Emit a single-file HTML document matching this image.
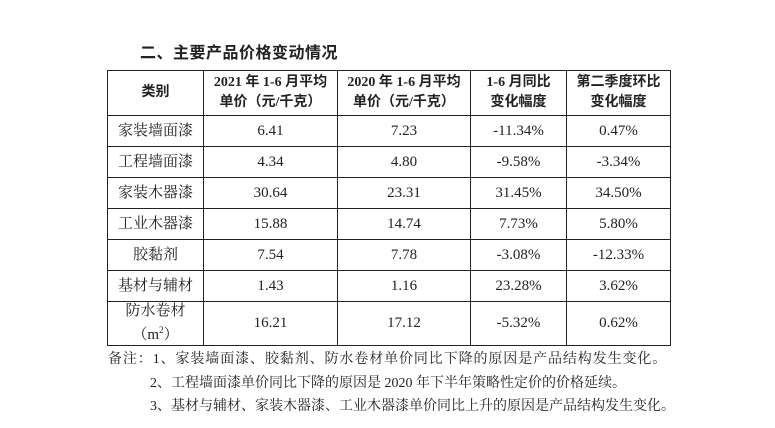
<!DOCTYPE html>
<html><head><meta charset="utf-8"><style>
body{margin:0;width:775px;height:428px;background:#fff;position:relative;overflow:hidden;font-family:"Liberation Serif","Noto Serif CJK SC",serif;color:#222}
.t{position:absolute;left:140px;top:39px;font-size:16px;font-weight:bold;font-family:"Liberation Sans","Noto Sans CJK SC",sans-serif;letter-spacing:0.5px}
table{position:absolute;left:107px;top:70px;border-collapse:collapse;}
td{border:1.3px solid #222;text-align:center;font-size:15px;padding:0;line-height:19px}
th{border:1.3px solid #222;font-size:14px;font-weight:bold;padding:0;line-height:20px;font-family:"Liberation Serif","Noto Sans CJK SC",serif}
.n{position:absolute;font-size:14px;white-space:nowrap}
</style></head><body>
<div class="t">二、主要产品价格变动情况</div>
<table>
<tr style="height:45px"><th style="width:95px">类别</th><th style="width:133px">2021 年 1-6 月平均<br>单价（元/千克）</th><th style="width:132px">2020 年 1-6 月平均<br>单价（元/千克）</th><th style="width:95px">1-6 月同比<br>变化幅度</th><th style="width:103px">第二季度环比<br>变化幅度</th></tr>
<tr style="height:31px"><td>家装墙面漆</td><td>6.41</td><td>7.23</td><td>-11.34%</td><td>0.47%</td></tr>
<tr style="height:31px"><td>工程墙面漆</td><td>4.34</td><td>4.80</td><td>-9.58%</td><td>-3.34%</td></tr>
<tr style="height:31px"><td>家装木器漆</td><td>30.64</td><td>23.31</td><td>31.45%</td><td>34.50%</td></tr>
<tr style="height:31px"><td>工业木器漆</td><td>15.88</td><td>14.74</td><td>7.73%</td><td>5.80%</td></tr>
<tr style="height:31px"><td>胶黏剂</td><td>7.54</td><td>7.78</td><td>-3.08%</td><td>-12.33%</td></tr>
<tr style="height:31px"><td>基材与辅材</td><td>1.43</td><td>1.16</td><td>23.28%</td><td>3.62%</td></tr>
<tr style="height:42px"><td>防水卷材<br>（m<sup style="font-size:9px">2</sup>）</td><td>16.21</td><td>17.12</td><td>-5.32%</td><td>0.62%</td></tr>
</table>
<div class="n" style="left:108px;top:348px;letter-spacing:0.9px">备注：1、家装墙面漆、胶黏剂、防水卷材单价同比下降的原因是产品结构发生变化。</div>
<div class="n" style="left:150px;top:372px">2、工程墙面漆单价同比下降的原因是 2020 年下半年策略性定价的价格延续。</div>
<div class="n" style="left:150px;top:395px">3、基材与辅材、家装木器漆、工业木器漆单价同比上升的原因是产品结构发生变化。</div>
</body></html>
